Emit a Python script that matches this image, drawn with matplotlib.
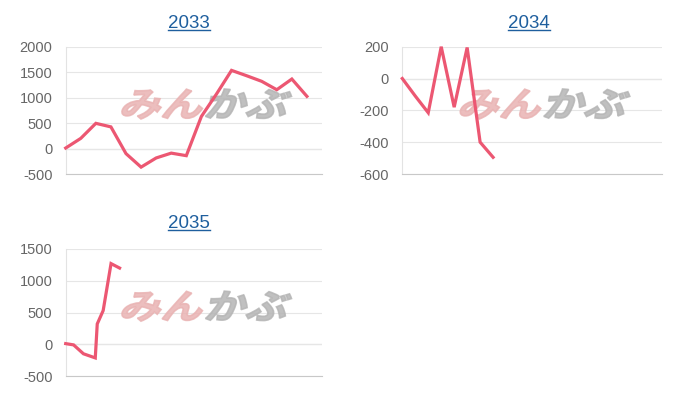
import matplotlib
matplotlib.use("Agg")
import matplotlib.pyplot as plt
from matplotlib.textpath import TextPath
from matplotlib.font_manager import FontProperties
from matplotlib.patches import PathPatch
from matplotlib.transforms import Affine2D, IdentityTransform
from matplotlib.lines import Line2D

plt.rcParams['font.family'] = ['Liberation Sans', 'DejaVu Sans']
plt.rcParams['axes.unicode_minus'] = False

# values
titles = ["2033", "2034", "2035"]

x2033 = list(range(17))
y2033 = [10, 200, 495, 425, -100, -365, -185, -90, -140, 630, 1070, 1535, 1430, 1320, 1155, 1365, 1025]

x2034 = list(range(8))
y2034 = [0, -110, -215, 200, -180, 195, -400, -495]

x2035 = [0, 1.2, 2.7, 4.5, 4.8, 5.7, 6.9, 8.2]
y2035 = [10, -10, -150, -215, 320, 530, 1270, 1200]

xlims = [(0, 17), (0, 20), (0, 39)]
yticks = [[-500, 0, 500, 1000, 1500, 2000],
          [-600, -400, -200, 0, 200],
          [-500, 0, 500, 1000, 1500]]

line_color = "#ec5772"
title_color = "#1f5f9e"

fig = plt.figure(figsize=(7, 4), dpi=100)
W, H = 700, 400

# axes boxes in pixels: left, top, right, bottom
boxes = [(65.7, 46.7, 322, 174), (402.3, 46.7, 661.7, 174), (65.7, 249, 322, 376)]
title_pos = [(189, 23), (529, 23), (189, 223)]

series = [(x2033, y2033), (x2034, y2034), (x2035, y2035)]

axes = []
for i, (l, t, r, b) in enumerate(boxes):
    ax = fig.add_axes([l / W, 1 - b / H, (r - l) / W, (b - t) / H])
    xs, ys = series[i]
    ax.plot(xs, ys, color=line_color, lw=2.3, solid_joinstyle='miter', zorder=5, clip_on=False)
    ax.set_xlim(*xlims[i])
    ax.set_ylim(yticks[i][0], yticks[i][-1])
    ax.set_yticks(yticks[i])
    ax.set_xticks([])
    ax.tick_params(axis='y', length=0, pad=9.5, labelsize=10.5, labelcolor='#666666')
    ax.grid(axis='y', color='#e6e6e6', lw=0.8, zorder=0)
    ax.axhline(0, color='#bcbcbc', lw=0.8, zorder=1)
    for s in ['top', 'right']:
        ax.spines[s].set_visible(False)
    ax.spines['left'].set_color('#e3e3e3')
    ax.spines['left'].set_linewidth(0.8)
    ax.spines['bottom'].set_color('#c8c8c8')
    ax.spines['bottom'].set_linewidth(0.8)
    axes.append(ax)

    tx, ty = title_pos[i]
    fig.text(tx / W, 1 - ty / H, titles[i], ha='center', va='center',
             fontsize=13.5, color=title_color)

# underline the titles (they are links in the original)
renderer = fig.canvas.get_renderer()
for txt in list(fig.texts):
    bb = txt.get_window_extent(renderer)
    y = bb.y0 + 2
    fig.add_artist(Line2D([bb.x0 / W, bb.x1 / W], [y / H, y / H],
                          color=title_color, lw=1.0))

# watermark
jp = FontProperties(family='Noto Sans CJK JP', weight='bold')
p1 = TextPath((0, 0), "みん", size=30, prop=jp)
ext1 = p1.get_extents()
p2 = TextPath((ext1.x1 + 2, 0), "かぶ", size=30, prop=jp)
full_w = p2.get_extents().x1 - ext1.x0
full_h = max(ext1.y1, p2.get_extents().y1) - min(ext1.y0, p2.get_extents().y0)
sc = 165 / full_w
for ax in axes:
    cx, cy = ax.transAxes.transform((0.55, 0.55))
    tr = (Affine2D().translate(-ext1.x0 - full_w / 2, -ext1.y0 - full_h / 2)
          .skew_deg(14, 0).scale(sc, 30 / full_h).translate(cx, cy))
    for p, col in [(p1, '#e9b3b3'), (p2, '#b5b5b5')]:
        patch = PathPatch(tr.transform_path(p), facecolor=col, edgecolor=col, lw=1.2,
                          alpha=0.85, zorder=3, transform=IdentityTransform())
        ax.add_artist(patch)

fig.savefig("out.png", dpi=100)
